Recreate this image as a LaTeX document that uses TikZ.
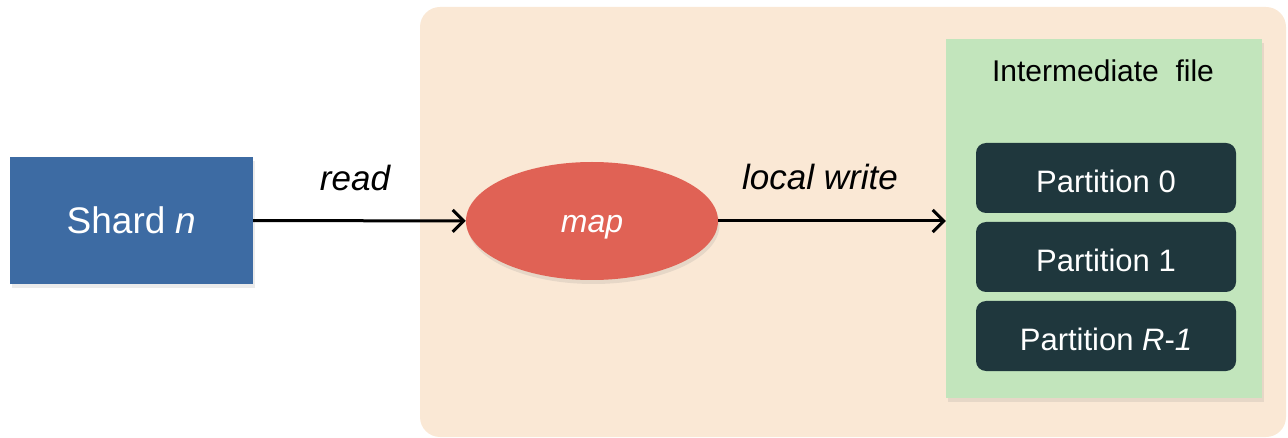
\documentclass[tikz,border=0pt]{standalone}
\usepackage{fontspec}
\setmainfont{Liberation Sans}
\usetikzlibrary{shapes.geometric, arrows.meta, shadows}

\definecolor{shardblue}{HTML}{3D6BA3}
\definecolor{stagepeach}{HTML}{FAE8D5}
\definecolor{mapred}{HTML}{E06255}
\definecolor{filegreen}{HTML}{C2E5BC}
\definecolor{partdark}{HTML}{1F373D}

\tikzset{
  softshadow/.style={drop shadow={opacity=0.16, shadow xshift=1.5pt, shadow yshift=-4pt}},
  stagebox/.style={fill=stagepeach, rounded corners=20pt, minimum width=866pt, minimum height=430pt, inner sep=0pt},
  shardbox/.style={fill=shardblue, text=white, minimum width=243pt, minimum height=127pt, inner sep=0pt,
    font=\fontsize{37}{40}\selectfont, softshadow},
  mapnode/.style={ellipse, fill=mapred, text=white, minimum width=252pt, minimum height=118pt, inner sep=0pt,
    font=\fontsize{32}{36}\selectfont\itshape, text height=23.4pt, text depth=0pt, softshadow},
  filebox/.style={fill=filegreen, minimum width=316pt, minimum height=359pt, inner sep=0pt, softshadow},
  partbox/.style={fill=partdark, text=white, rounded corners=10pt, minimum width=260pt, minimum height=70pt,
    inner sep=0pt, text height=29.6pt, text depth=0pt, font=\fontsize{31}{34}\selectfont},
  edgelabel/.style={font=\fontsize{35}{38}\selectfont\itshape, inner sep=0pt},
  flow/.style={line width=3pt, -{Straight Barb[length=11pt, width=22pt, line width=3pt]}},
}

\begin{document}
\begin{tikzpicture}[x=1pt, y=-1pt]
  \useasboundingbox (0,0) rectangle (1288,438);

  % worker area
  \node[stagebox] (stage) at (853,222) {};

  % input shard
  \node[shardbox] (shard) at (131.5,220.5) {Shard \textit{n}};

  % map task
  \node[mapnode] (map) at (592,221) {map};

  % intermediate file with its partitions
  \node[filebox] (file) at (1104,218.5) {};
  \node[font=\fontsize{30}{34}\selectfont, inner sep=0pt] (filetitle) at (1103,70.5) {Intermediate\ \ file};
  \node[partbox] (p0) at (1106,178) {Partition 0};
  \node[partbox] (p1) at (1106,257) {Partition 1};
  \node[partbox] (pr) at (1106,336) {Partition \textit{R}-\textit{1}};

  % data flow
  \draw[flow] (shard) -- (map);
  \draw[flow] (map) -- (map -| file.west);

  \node[edgelabel] (readlbl) at (355,178) {read};
  \node[edgelabel] (writelbl) at (820,177) {local write};
\end{tikzpicture}
\end{document}
